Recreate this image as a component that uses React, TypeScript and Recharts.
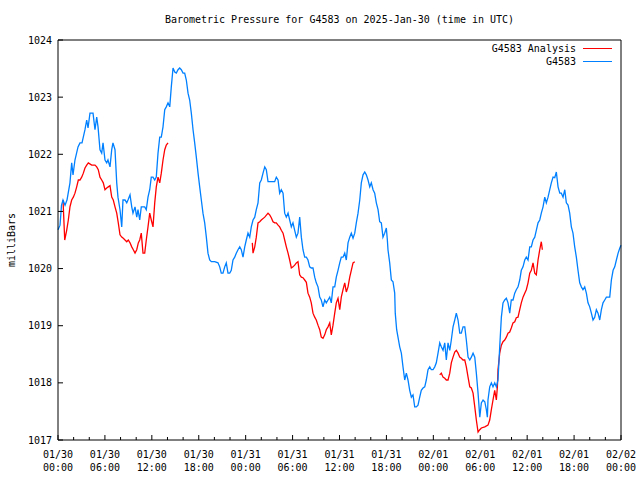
import { LineChart, Line, XAxis, YAxis, Legend } from "recharts";

const TITLE = "Barometric Pressure for G4583 on 2025-Jan-30 (time in UTC)";
const Y_LABEL = "milliBars";
const NAME_ANALYSIS = "G4583 Analysis";
const NAME_STATION = "G4583";

// hours since 01/30 00:00 UTC
const X_TICKS = [0, 2, 4, 6, 8, 10, 12, 14, 16, 18, 20, 22, 24, 26, 28, 30, 32, 34, 36, 38, 40, 42, 44, 46, 48, 50, 52, 54, 56, 58, 60, 62, 64, 66, 68, 70, 72];
const X_DATES = ["01/30", "01/30", "01/30", "01/30", "01/31", "01/31", "01/31", "01/31", "02/01", "02/01", "02/01", "02/01", "02/02"];
const X_TIMES = ["00:00", "06:00", "12:00", "18:00", "00:00", "06:00", "12:00", "18:00", "00:00", "06:00", "12:00", "18:00", "00:00"];
const Y_TICKS = [1017, 1018, 1019, 1020, 1021, 1022, 1023, 1024];

// [hour, mbar]
const STATION: [number, number][] = [
  [0, 1020.68], [0.26, 1020.76], [0.45, 1021.11], [0.64, 1021.2], [0.9, 1021.11], [1.15, 1021.2],
  [1.53, 1021.5], [1.75, 1021.85], [1.92, 1021.64], [2.17, 1021.9], [2.56, 1022.13], [2.81, 1022.2],
  [3.07, 1022.2], [3.45, 1022.43], [3.67, 1022.6], [3.84, 1022.46], [4.09, 1022.72], [4.48, 1022.72],
  [4.73, 1022.43], [4.95, 1022.65], [5.12, 1022.48], [5.37, 1022.08], [5.59, 1022.02], [5.76, 1022.2],
  [6.01, 1021.9], [6.23, 1021.85], [6.39, 1021.9], [6.65, 1021.78], [6.87, 1022.08], [7.03, 1022.2],
  [7.29, 1022.08], [7.51, 1021.5], [7.67, 1021.25], [7.93, 1021.03], [8.15, 1020.73], [8.31, 1021.2],
  [8.57, 1021.2], [8.79, 1021.15], [8.95, 1021.2], [9.21, 1021.29], [9.43, 1021.08], [9.59, 1020.97],
  [9.85, 1021.08], [10.07, 1020.9], [10.23, 1021.03], [10.45, 1020.85], [10.65, 1021.08], [11.09, 1021.08],
  [11.29, 1021.03], [11.51, 1021.25], [11.73, 1021.38], [11.93, 1021.6], [12.15, 1021.6], [12.37, 1021.55],
  [12.57, 1021.6], [12.79, 1022.02], [13.01, 1022.3], [13.21, 1022.3], [13.43, 1022.48], [13.65, 1022.78],
  [13.85, 1022.83], [14.07, 1022.9], [14.29, 1022.83], [14.49, 1023.18], [14.71, 1023.51], [14.93, 1023.44],
  [15.13, 1023.42], [15.35, 1023.48], [15.56, 1023.51], [15.77, 1023.48], [15.99, 1023.42], [16.2, 1023.42],
  [16.41, 1023.3], [16.63, 1023.07], [16.84, 1022.95], [17.05, 1022.72], [17.27, 1022.43], [17.48, 1022.2],
  [17.69, 1021.95], [17.91, 1021.67], [18.12, 1021.43], [18.33, 1021.2], [18.54, 1020.97], [18.76, 1020.8],
  [18.97, 1020.55], [19.18, 1020.27], [19.4, 1020.15], [19.61, 1020.12], [20.04, 1020.12], [20.46, 1020.1],
  [20.68, 1020.03], [20.88, 1019.92], [21.1, 1019.92], [21.32, 1020.03], [21.52, 1020.1], [21.74, 1019.92],
  [21.96, 1019.92], [22.16, 1019.97], [22.38, 1020.15], [22.6, 1020.2], [22.8, 1020.27], [23.02, 1020.33],
  [23.24, 1020.38], [23.44, 1020.33], [23.66, 1020.2], [23.88, 1020.38], [24.08, 1020.5], [24.3, 1020.62],
  [24.52, 1020.55], [24.72, 1020.73], [24.94, 1020.85], [25.16, 1020.9], [25.36, 1021.03], [25.58, 1021.15],
  [25.8, 1021.5], [26.0, 1021.55], [26.22, 1021.67], [26.44, 1021.78], [26.64, 1021.73], [26.86, 1021.52],
  [27.28, 1021.52], [27.71, 1021.52], [27.92, 1021.6], [28.14, 1021.55], [28.35, 1021.32], [28.56, 1021.38],
  [28.78, 1021.32], [28.99, 1020.97], [29.2, 1020.9], [29.42, 1020.97], [29.63, 1020.85], [29.84, 1020.73],
  [30.05, 1020.8], [30.27, 1020.67], [30.48, 1020.55], [30.69, 1020.62], [30.91, 1020.9], [31.12, 1020.55],
  [31.33, 1020.33], [31.55, 1020.2], [31.76, 1020.2], [31.97, 1020.15], [32.19, 1020.03], [32.39, 1020.01],
  [32.61, 1020.01], [32.83, 1019.85], [33.03, 1019.75], [33.25, 1019.68], [33.47, 1019.5], [33.67, 1019.45],
  [33.89, 1019.33], [34.11, 1019.45], [34.31, 1019.4], [34.53, 1019.45], [34.75, 1019.5], [34.95, 1019.4],
  [35.17, 1019.68], [35.39, 1019.68], [35.59, 1019.85], [35.81, 1019.97], [36.03, 1020.1], [36.23, 1020.2],
  [36.45, 1020.2], [36.67, 1020.27], [36.87, 1020.15], [37.09, 1020.45], [37.31, 1020.55], [37.51, 1020.62],
  [37.73, 1020.53], [37.95, 1020.62], [38.15, 1020.8], [38.37, 1020.97], [38.59, 1021.2], [38.79, 1021.5],
  [39.01, 1021.64], [39.23, 1021.69], [39.43, 1021.64], [39.65, 1021.55], [39.87, 1021.43], [40.07, 1021.5],
  [40.29, 1021.38], [40.5, 1021.32], [40.71, 1021.15], [40.93, 1021.03], [41.14, 1020.82], [41.35, 1020.8],
  [41.56, 1020.55], [41.78, 1020.62], [41.99, 1020.71], [42.12, 1020.5], [42.2, 1020.33], [42.42, 1020.1],
  [42.63, 1019.8], [42.84, 1019.77], [43.06, 1019.57], [43.13, 1019.22], [43.31, 1018.93], [43.48, 1018.8],
  [43.7, 1018.63], [43.91, 1018.52], [44.12, 1018.28], [44.34, 1018.05], [44.55, 1018.17], [44.76, 1018.05],
  [44.98, 1017.87], [45.19, 1017.75], [45.4, 1017.79], [45.62, 1017.58], [45.82, 1017.58], [46.04, 1017.61],
  [46.26, 1017.75], [46.46, 1017.87], [46.68, 1017.91], [46.9, 1017.93], [47.1, 1018.05], [47.32, 1018.23],
  [47.54, 1018.28], [47.74, 1018.23], [47.96, 1018.23], [48.18, 1018.28], [48.38, 1018.35], [48.6, 1018.52],
  [48.82, 1018.7], [49.02, 1018.63], [49.24, 1018.57], [49.46, 1018.7], [49.66, 1018.4], [49.88, 1018.7],
  [50.1, 1018.57], [50.3, 1018.75], [50.52, 1018.98], [50.74, 1019.1], [50.94, 1019.22], [51.16, 1019.1],
  [51.38, 1018.87], [51.58, 1018.87], [51.8, 1018.98], [52.02, 1018.98], [52.22, 1018.75], [52.44, 1018.45],
  [52.66, 1018.4], [52.86, 1018.45], [53.08, 1018.52], [53.3, 1018.45], [53.5, 1018.17], [53.72, 1017.82],
  [53.94, 1017.4], [54.14, 1017.65], [54.36, 1017.7], [54.58, 1017.67], [54.78, 1017.53], [54.91, 1017.4],
  [54.99, 1017.7], [55.21, 1017.93], [55.42, 1018.0], [55.63, 1017.93], [55.85, 1018.0], [56.06, 1017.93],
  [56.27, 1018.05], [56.49, 1018.63], [56.7, 1019.15], [56.91, 1019.4], [57.13, 1019.45], [57.34, 1019.48],
  [57.55, 1019.4], [57.77, 1019.22], [57.97, 1019.45], [58.19, 1019.45], [58.41, 1019.57], [58.61, 1019.63],
  [58.83, 1019.68], [59.05, 1019.8], [59.25, 1019.97], [59.47, 1020.03], [59.69, 1020.15], [59.89, 1020.2],
  [60.11, 1020.15], [60.33, 1020.38], [60.53, 1020.38], [60.75, 1020.5], [60.97, 1020.55], [61.17, 1020.67],
  [61.39, 1020.8], [61.61, 1020.85], [61.81, 1020.97], [62.03, 1021.08], [62.25, 1021.25], [62.45, 1021.15],
  [62.67, 1021.25], [62.89, 1021.38], [63.09, 1021.5], [63.31, 1021.6], [63.53, 1021.59], [63.73, 1021.69],
  [63.95, 1021.43], [64.17, 1021.32], [64.37, 1021.32], [64.59, 1021.25], [64.81, 1021.38], [65.01, 1021.15],
  [65.23, 1021.11], [65.44, 1020.97], [65.65, 1020.73], [65.86, 1020.62], [66.08, 1020.38], [66.29, 1020.2],
  [66.5, 1019.97], [66.72, 1019.75], [66.93, 1019.68], [67.14, 1019.63], [67.36, 1019.68], [67.57, 1019.57],
  [67.78, 1019.4], [68.0, 1019.33], [68.21, 1019.22], [68.42, 1019.1], [68.64, 1019.15], [68.85, 1019.28],
  [69.06, 1019.22], [69.28, 1019.1], [69.49, 1019.28], [69.7, 1019.4], [69.92, 1019.45], [70.13, 1019.5],
  [70.56, 1019.5], [70.77, 1019.8], [70.99, 1019.97], [71.2, 1020.03], [71.41, 1020.15], [71.63, 1020.27],
  [71.85, 1020.36], [72.0, 1020.41],
];

// analysis runs, with gaps between them
const ANALYSIS_1: [number, number][] = [
  [0.64, 1021.2], [0.86, 1020.5], [1.11, 1020.67], [1.32, 1020.85], [1.53, 1021.08], [1.75, 1021.2],
  [1.96, 1021.25], [2.17, 1021.32], [2.39, 1021.43], [2.6, 1021.55], [2.81, 1021.55], [3.03, 1021.6],
  [3.24, 1021.67], [3.45, 1021.76], [3.67, 1021.81], [3.88, 1021.85], [4.31, 1021.81], [4.73, 1021.81],
  [4.95, 1021.78], [5.15, 1021.73], [5.37, 1021.6], [5.59, 1021.55], [5.79, 1021.5], [6.01, 1021.38],
  [6.23, 1021.41], [6.43, 1021.43], [6.65, 1021.45], [6.87, 1021.25], [7.07, 1021.2], [7.29, 1021.08],
  [7.51, 1020.97], [7.71, 1020.8], [7.93, 1020.59], [8.15, 1020.55], [8.35, 1020.53], [8.57, 1020.5],
  [8.79, 1020.47], [8.99, 1020.5], [9.21, 1020.45], [9.43, 1020.38], [9.63, 1020.33], [9.85, 1020.27],
  [10.07, 1020.33], [10.27, 1020.45], [10.45, 1020.5], [10.65, 1020.62], [10.87, 1020.27], [11.09, 1020.27],
  [11.29, 1020.5], [11.51, 1020.73], [11.73, 1020.97], [11.93, 1020.85], [12.15, 1020.73], [12.37, 1021.15],
  [12.57, 1021.43], [12.79, 1021.6], [13.01, 1021.5], [13.21, 1021.67], [13.43, 1021.9], [13.65, 1022.08],
  [13.85, 1022.16], [14.07, 1022.2],
];
const ANALYSIS_2: [number, number][] = [
  [24.85, 1020.45], [24.94, 1020.27], [25.16, 1020.38], [25.36, 1020.55], [25.58, 1020.8], [25.8, 1020.82],
  [26.0, 1020.85], [26.44, 1020.9], [26.86, 1020.97], [27.07, 1020.94], [27.28, 1020.89], [27.5, 1020.82],
  [27.71, 1020.8], [27.92, 1020.8], [28.14, 1020.76], [28.35, 1020.73], [28.56, 1020.67], [28.78, 1020.62],
  [28.99, 1020.5], [29.2, 1020.38], [29.42, 1020.27], [29.63, 1020.15], [29.84, 1020.01], [30.05, 1020.03],
  [30.27, 1020.06], [30.48, 1020.1], [30.69, 1020.12], [30.91, 1019.89], [31.12, 1019.85], [31.33, 1019.84],
  [31.55, 1019.8], [31.76, 1019.76], [31.97, 1019.57], [32.19, 1019.5], [32.39, 1019.4], [32.61, 1019.22],
  [32.83, 1019.15], [33.03, 1019.1], [33.25, 1019.01], [33.47, 1018.93], [33.67, 1018.8], [33.89, 1018.78],
  [34.11, 1018.84], [34.31, 1018.93], [34.53, 1018.98], [34.75, 1019.05], [34.95, 1018.84], [35.17, 1019.01],
  [35.39, 1019.22], [35.59, 1019.4], [35.81, 1019.48], [36.03, 1019.28], [36.23, 1019.5], [36.45, 1019.63],
  [36.67, 1019.75], [36.87, 1019.59], [37.09, 1019.68], [37.31, 1019.85], [37.51, 1019.97], [37.73, 1020.1],
  [37.95, 1020.12],
];
const ANALYSIS_3: [number, number][] = [
  [48.82, 1018.14], [49.02, 1018.17], [49.24, 1018.1], [49.46, 1018.08], [49.66, 1018.05], [49.88, 1018.05],
  [50.1, 1018.17], [50.3, 1018.35], [50.52, 1018.45], [50.74, 1018.54], [50.94, 1018.57], [51.16, 1018.52],
  [51.38, 1018.45], [51.58, 1018.43], [51.8, 1018.4], [52.02, 1018.4], [52.22, 1018.28], [52.44, 1018.1],
  [52.66, 1017.93], [52.86, 1017.91], [53.08, 1017.82], [53.3, 1017.58], [53.5, 1017.35], [53.72, 1017.14],
  [53.94, 1017.18], [54.14, 1017.21], [54.58, 1017.23], [54.99, 1017.26], [55.21, 1017.35], [55.42, 1017.53],
  [55.63, 1017.7], [55.85, 1017.87], [56.06, 1017.7], [56.19, 1017.93], [56.27, 1018.23], [56.49, 1018.52],
  [56.7, 1018.66], [56.91, 1018.72], [57.13, 1018.75], [57.34, 1018.8], [57.55, 1018.87], [57.77, 1018.89],
  [57.97, 1018.96], [58.19, 1019.05], [58.41, 1019.07], [58.61, 1019.14], [58.83, 1019.15], [59.05, 1019.28],
  [59.25, 1019.4], [59.47, 1019.5], [59.69, 1019.57], [59.89, 1019.63], [60.11, 1019.75], [60.33, 1019.92],
  [60.53, 1019.97], [60.75, 1020.1], [60.97, 1019.92], [61.17, 1019.89], [61.39, 1020.15], [61.61, 1020.33],
  [61.81, 1020.47], [61.94, 1020.33],
];

const FONT = '"DejaVu Sans Mono", "Liberation Mono", monospace';
const RED = "#ff0000";
const BLUE = "#0080ff";
const LEGEND_ITEMS = [
  { name: NAME_ANALYSIS, color: RED },
  { name: NAME_STATION, color: BLUE },
];

const toRows = (pts: [number, number][]) => pts.map(([t, v]) => ({ t, v }));
const stationData = toRows(STATION);
const analysisData = [
  ...toRows(ANALYSIS_1),
  { t: 14.5, v: null },
  ...toRows(ANALYSIS_2),
  { t: 43, v: null },
  ...toRows(ANALYSIS_3),
];

const TXT = { fontSize: 10, fontFamily: FONT, fill: "#000" } as const;

function BottomTick({ x, y, payload }: any) {
  const t = payload.value;
  const major = t % 6 === 0;
  const i = t / 6;
  return (
    <g>
      <line x1={x} x2={x} y1={y} y2={y - (major ? 5 : 3)} stroke="#000" />
      {major && (
        <>
          <text x={x} y={y + 18} textAnchor="middle" {...TXT}>{X_DATES[i]}</text>
          <text x={x} y={y + 31} textAnchor="middle" {...TXT}>{X_TIMES[i]}</text>
        </>
      )}
    </g>
  );
}

function TopTick({ x, y, payload }: any) {
  const major = payload.value % 6 === 0;
  return <line x1={x} x2={x} y1={y} y2={y + (major ? 5 : 3)} stroke="#000" />;
}

function LeftTick({ x, y, payload }: any) {
  return (
    <g>
      <line x1={x} x2={x + 5} y1={y} y2={y} stroke="#000" />
      <text x={x - 6} y={y} dy="0.35em" textAnchor="end" {...TXT}>{payload.value}</text>
    </g>
  );
}

function RightTick({ x, y }: any) {
  return <line x1={x} x2={x - 5} y1={y} y2={y} stroke="#000" />;
}

function YLabel({ viewBox }: any) {
  const cx = viewBox.x + viewBox.width - 47;
  const cy = viewBox.y + viewBox.height / 2;
  return (
    <text x={cx} y={cy} dy="0.35em" textAnchor="middle" transform={`rotate(-90 ${cx} ${cy})`} {...TXT}>
      {Y_LABEL}
    </text>
  );
}

function LegendBox() {
  return (
    <div style={{ fontFamily: FONT, fontSize: 10, color: "#000" }}>
      {LEGEND_ITEMS.map((e) => (
        <div key={e.name} style={{ display: "flex", alignItems: "center", justifyContent: "flex-end", height: 13 }}>
          <span>{e.name}</span>
          <span style={{ display: "inline-block", width: 29, marginLeft: 7, borderTop: `1px solid ${e.color}` }} />
        </div>
      ))}
    </div>
  );
}

export default function App() {
  const axisLine = { stroke: "#000" };
  return (
    <div style={{ position: "relative", width: 640, height: 480, background: "#fff" }}>
      <style>{"body{margin:0}"}</style>
      <div
        style={{
          position: "absolute",
          top: 13,
          left: 0,
          width: 679,
          textAlign: "center",
          fontFamily: FONT,
          fontSize: 10,
          lineHeight: "14px",
          color: "#000",
        }}
      >
        {TITLE}
      </div>
      <LineChart width={640} height={480} margin={{ top: 39, right: 18, bottom: 39, left: 57 }}>
        <XAxis
          xAxisId="b"
          dataKey="t"
          type="number"
          domain={[0, 72]}
          ticks={X_TICKS}
          interval={0}
          height={1}
          tickSize={0}
          tickMargin={0}
          axisLine={axisLine}
          tickLine={false}
          tick={BottomTick}
        />
        <XAxis
          xAxisId="t"
          orientation="top"
          dataKey="t"
          type="number"
          domain={[0, 72]}
          ticks={X_TICKS}
          interval={0}
          height={1}
          tickSize={0}
          tickMargin={0}
          axisLine={axisLine}
          tickLine={false}
          tick={TopTick}
        />
        <YAxis
          yAxisId="l"
          type="number"
          domain={[1017, 1024]}
          ticks={Y_TICKS}
          interval={0}
          width={1}
          tickSize={0}
          tickMargin={0}
          axisLine={axisLine}
          tickLine={false}
          tick={LeftTick}
          label={{ content: YLabel }}
        />
        <YAxis
          yAxisId="r"
          orientation="right"
          type="number"
          domain={[1017, 1024]}
          ticks={Y_TICKS}
          interval={0}
          width={1}
          tickSize={0}
          tickMargin={0}
          axisLine={axisLine}
          tickLine={false}
          tick={RightTick}
        />
        <Legend
          layout="horizontal"
          verticalAlign="middle"
          align="center"
          content={LegendBox}
          wrapperStyle={{ top: 42, right: 28, left: "auto", bottom: "auto", width: "auto", height: "auto" }}
        />
        <Line
          xAxisId="b"
          yAxisId="l"
          data={analysisData}
          dataKey="v"
          name={NAME_ANALYSIS}
          type="linear"
          stroke={RED}
          strokeWidth={1.3}
          dot={false}
          activeDot={false}
          isAnimationActive={false}
        />
        <Line
          xAxisId="b"
          yAxisId="l"
          data={stationData}
          dataKey="v"
          name={NAME_STATION}
          type="linear"
          stroke={BLUE}
          strokeWidth={1.3}
          dot={false}
          activeDot={false}
          isAnimationActive={false}
        />
      </LineChart>
    </div>
  );
}
